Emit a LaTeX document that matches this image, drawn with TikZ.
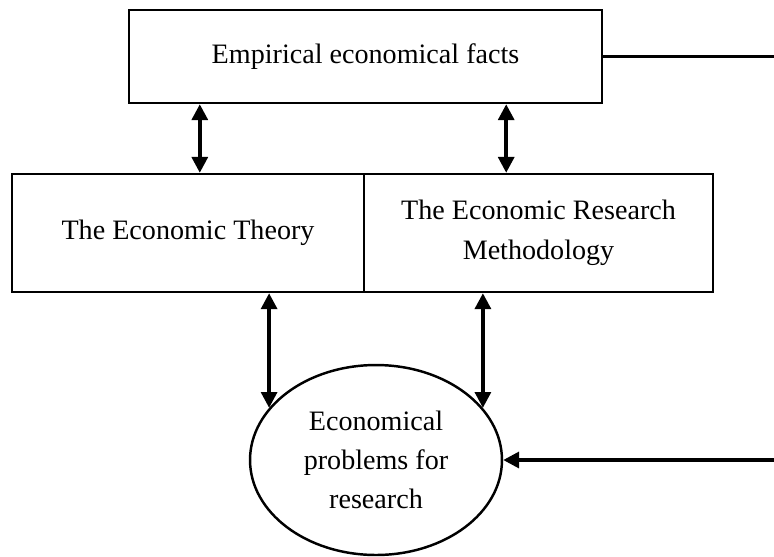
\documentclass[tikz,border=0pt]{standalone}
\usepackage{fontspec}
\setmainfont{Liberation Serif}
\usetikzlibrary{arrows.meta,shapes.geometric}
\tikzset{
  box/.style={draw,line width=1.4pt,rectangle,inner sep=0pt,align=center,
    font=\fontsize{16}{22.5}\selectfont},
  oval/.style={draw,line width=1.4pt,ellipse,inner sep=0pt,align=center,
    minimum width=5.04cm,minimum height=3.8cm,font=\fontsize{16}{22}\selectfont},
  twoway/.style={line width=2pt,{Triangle[length=9pt,width=9pt]}-{Triangle[length=9pt,width=9pt]}},
  oneway/.style={line width=2pt,-{Triangle[length=9pt,width=9pt]}},
  plain/.style={line width=1.4pt}
}
\begin{document}
\begin{tikzpicture}[x=0.02cm,y=-0.02cm]
  \useasboundingbox (0,0) rectangle (774,556);
  %% Boxes
  \node[box,minimum width=9.46cm,minimum height=1.86cm] (facts) at (365.5,56.5) {Empirical economical facts};
  \node[box,minimum width=7.04cm,minimum height=2.36cm] (theory) at (188,233) {The Economic Theory};
  \node[box,minimum width=6.98cm,minimum height=2.36cm] (method) at (538.5,233) {The Economic Research\\Methodology};
  %% Problems
  \node[oval] (problems) at (376,460) {Economical\\problems for\\research};
  %% Outer loop
  \coordinate (rimtop) at (774,56.5);
  \coordinate (rimbot) at (774,460);
  %% Links
  \draw[twoway] ([xshift=1.44cm]facts.south west) -- ([xshift=1.44cm]facts.south west |- theory.north);
  \draw[twoway] ([xshift=-1.94cm]facts.south east) -- ([xshift=-1.94cm]facts.south east |- method.north);
  \draw[twoway] (problems.154 |- theory.south) -- (problems.154);
  \draw[twoway] (problems.26 |- method.south) -- (problems.26);
  \draw[plain] (facts.east) -- (rimtop);
  \draw[oneway] (rimbot) -- (problems.east);
\end{tikzpicture}
\end{document}
